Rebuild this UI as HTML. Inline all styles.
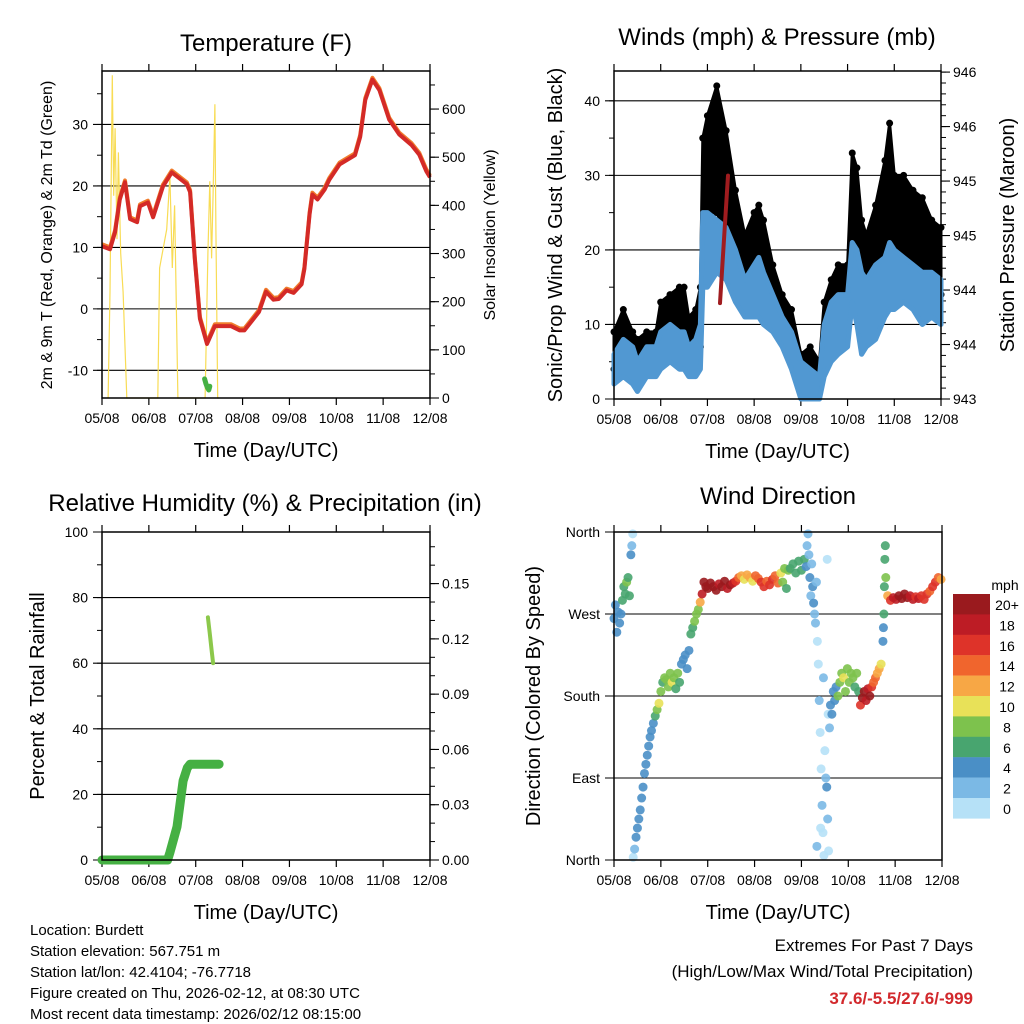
<!DOCTYPE html>
<html><head><meta charset="utf-8"><style>
html,body{margin:0;padding:0;background:#fff;}
svg{display:block;font-family:"Liberation Sans",Arial,sans-serif;}
</style></head><body>
<svg id="s" width="1024" height="1024" viewBox="0 0 1024 1024" xmlns="http://www.w3.org/2000/svg"></svg>
<script>
// ---------- DATA ----------
const dayLabels = ["05/08","06/08","07/08","08/08","09/08","10/08","11/08","12/08"];
// Temperature (F)
const tempTime = [0,0.17,0.28,0.38,0.49,0.6,0.75,0.81,0.98,1.09,1.3,1.49,1.81,1.88,1.98,2.09,2.24,2.41,2.58,2.75,2.94,3.04,3.35,3.5,3.66,3.77,3.94,4.09,4.26,4.32,4.43,4.49,4.6,4.75,4.85,5.07,5.4,5.51,5.62,5.77,5.92,6.13,6.34,6.6,6.77,6.92,7.0];
const tempVals = [10.2,9.7,12.5,17.8,20.6,14.6,14.1,16.7,17.3,14.9,19.9,22.2,20.3,19,8.1,-1.6,-5.7,-2.8,-2.8,-2.8,-3.5,-3.5,-0.5,2.8,1.5,1.6,3,2.6,4,6.5,15.4,18.6,17.8,19.4,21,23.5,25,28,34,37.3,35.6,30.8,28.4,26.7,25.1,22.4,21.4];
const dewTime = [2.19,2.22,2.25,2.28,2.3];
const dewVals = [-11.4,-12.2,-12.8,-13.2,-12.6];
const solarTime = [0.13,0.17,0.22,0.25,0.28,0.32,0.35,0.4,0.45,0.53,0.6,1.19,1.23,1.38,1.45,1.5,1.55,1.62,2.2,2.26,2.3,2.34,2.37,2.41,2.43,2.47,2.5];
const solarVals = [0,220,670,420,560,330,510,300,220,0,0,0,270,350,460,270,400,0,0,300,450,290,425,610,350,0,0];
// Winds (mph) & pressure
const windTime = [0,0.2,0.4,0.5,0.7,0.9,1.0,1.2,1.4,1.5,1.6,1.75,1.85,1.9,2.0,2.2,2.4,2.6,2.8,3.0,3.1,3.2,3.4,3.6,3.8,4.0,4.2,4.4,4.5,4.65,4.8,5.0,5.1,5.2,5.3,5.4,5.6,5.8,5.9,6.0,6.2,6.4,6.6,6.8,7.0];
const windLo = [2,3,2,1,3,3,4,5,4,4,3,3,4,15,15,17,16,13,11,11,11,10,9,7,4,0,0,0,3,5,6,7,13,10,6,7,8,11,12,12,13,12,10,11,10];
const windHi = [6,8,7,5,7,7,9,10,9,9,7,8,10,25,25,24,23,20,16,18,19,17,14,11,9,5,4,3,10,13,14,14,21,20,17,16,18,19,21,20,19,18,17,17,16];
const gustLo = [4,6,5,4,6,6,8,9,9,9,5,6,7,20,25,25,22,18,14,16,17,15,12,9,7,2,2,1,7,10,10,10,20,15,11,12,13,17,18,18,18,17,15,16,14];
const gustHi = [9,12,9,8,9,9,13,14,15,15,11,12,15,35,38,42,36,28,22,25,26,24,18,14,12,6,7,5,13,16,18,18,33,31,24,22,26,32,37,30,30,28,27,24,23];
const presTime = [2.27,2.44];
const presVals = [943.88,945.05];
// RH & precipitation
const precipTime = [0,1.4,1.45,1.6,1.73,1.82,1.88,2.5];
const precipVals = [0,0,0.004,0.018,0.043,0.05,0.052,0.052];
const rhTime = [2.26,2.3,2.34,2.37];
const rhVals = [74,69,64,60];
// Wind direction
const dirTime = [0,0.03,0.06,0.09,0.12,0.15,0.18,0.21,0.24,0.27,0.3,0.33,0.36,0.38,0.4,0.41,0.44,0.47,0.5,0.53,0.56,0.59,0.62,0.65,0.68,0.71,0.74,0.77,0.8,0.84,0.88,0.92,0.96,1.0,1.04,1.08,1.12,1.16,1.2,1.24,1.28,1.32,1.36,1.4,1.44,1.48,1.52,1.56,1.6,1.64,1.68,1.72,1.76,1.8,1.84,1.88,1.92,1.96,2.0,2.06,2.12,2.18,2.24,2.3,2.36,2.42,2.48,2.54,2.6,2.66,2.72,2.78,2.84,2.9,2.96,3.02,3.08,3.14,3.2,3.26,3.32,3.38,3.44,3.5,3.56,3.6,3.64,3.68,3.72,3.76,3.82,3.88,3.94,4.0,4.06,4.1,4.12,4.14,4.16,4.18,4.2,4.22,4.24,4.26,4.28,4.3,4.32,4.33,4.34,4.36,4.38,4.4,4.41,4.42,4.44,4.46,4.47,4.48,4.5,4.52,4.54,4.55,4.56,4.57,4.58,4.6,4.62,4.65,4.68,4.71,4.74,4.78,4.82,4.86,4.9,4.94,4.98,5.02,5.06,5.1,5.14,5.18,5.22,5.26,5.3,5.34,5.38,5.42,5.46,5.5,5.54,5.58,5.62,5.66,5.7,5.74,5.75,5.76,5.77,5.78,5.79,5.8,5.84,5.9,5.96,6.02,6.08,6.14,6.2,6.26,6.32,6.38,6.44,6.5,6.56,6.62,6.68,6.74,6.8,6.86,6.92,6.98];
const dirVals = [265,280,250,272,260,270,285,300,292,305,310,290,335,345,358,3,12,25,35,45,55,68,80,95,105,115,125,135,142,150,158,165,172,185,195,200,198,190,205,195,200,188,205,195,215,220,225,210,230,248,255,262,270,275,283,292,305,300,298,304,300,296,303,300,306,298,302,304,306,310,312,308,313,310,306,312,309,305,300,306,302,308,312,304,315,305,320,298,318,320,325,315,328,318,330,322,345,358,335,310,290,325,300,282,270,260,305,15,240,215,175,140,35,100,60,30,200,5,120,90,80,330,45,160,10,145,170,160,185,175,190,180,195,205,200,185,210,195,205,200,190,205,185,170,178,185,175,188,180,190,195,200,205,210,215,240,255,270,300,330,345,310,290,285,288,286,290,287,292,288,290,286,289,287,290,286,292,295,300,305,310,308];
const dirSpd = [4,4,4,4,5,4,6,7,7,8,6,6,4,2,1,1,3,4,4,4,4,4,4,4,4,4,4,4,4,5,6,8,10,8,7,9,8,8,9,10,8,6,8,7,4,4,4,4,4,6,7,8,8,9,12,18,20,21,21,20,21,20,19,21,20,19,20,18,16,14,12,11,13,12,11,14,15,16,17,15,16,17,14,15,10,9,8,7,8,6,6,6,6,7,6,5,3,2,3,4,3,2,4,4,3,2,2,2,1,1,2,1,1,1,2,1,2,1,1,2,4,1,3,1,1,2,4,4,5,4,5,8,9,8,10,8,9,8,9,8,7,8,6,16,20,20,19,18,20,16,14,14,13,12,10,4,5,6,7,7,6,9,12,16,18,19,20,20,21,20,19,18,17,18,16,17,16,15,16,17,14,12];
const speedBinLabels = ["20+","18","16","14","12","10","8","6","4","2","0"];
const speedColors = ["#9a1a1e","#bd1c25","#de3329","#f0652d","#f7a745","#e8e158","#7dc24d","#48a56f","#4a8fc6","#7bb9e5","#b6e1f7"];

// ---------- HELPERS ----------
const NS="http://www.w3.org/2000/svg";
const svg=document.getElementById('s');
function mk(tag,attrs,parent){const e=document.createElementNS(NS,tag);for(const k in attrs)e.setAttribute(k,attrs[k]);(parent||svg).appendChild(e);return e;}
function txt(str,x,y,size,anchor,parent,extra){const t=mk('text',Object.assign({x:x,y:y,'font-size':size,'text-anchor':anchor||'middle',fill:'#000'},extra||{}),parent);t.textContent=str;return t;}
function lin(d0,d1,r0,r1){return v=>r0+(v-d0)/(d1-d0)*(r1-r0);}
function pathOf(xs,ys,fx,fy){return xs.map((v,i)=>(i?'L':'M')+fx(v).toFixed(1)+','+fy(ys[i]).toFixed(1)).join('');}
function speedColor(s){let i=Math.floor(s/2);if(i>10)i=10;return speedColors[10-i];}

function frame(g,p,name){
  const {x0,x1,y0,y1}=p;
  const fx=lin(0,7,x0,x1);
  for(let d=0;d<=7;d++){
    const x=fx(d);
    mk('line',{x1:x,y1:y1,x2:x,y2:y1+7,stroke:'#000','stroke-width':1.2},g);
    mk('line',{x1:x,y1:y0,x2:x,y2:y0-7,stroke:'#000','stroke-width':1.2},g);
    const t=txt(dayLabels[d],x,y1+25,14,'middle',g);
    
    
  }
  const xt=txt('Time (Day/UTC)',(x0+x1)/2,y1+59,20,'middle',g);
  
  
  return fx;
}
function box(g,p){mk('rect',{x:p.x0,y:p.y0,width:p.x1-p.x0,height:p.y1-p.y0,fill:'none',stroke:'#000','stroke-width':1.5},g);}
function leftAxis(g,p,fy,ticks,labelFn,minor,grid){
  minor.forEach(v=>mk('line',{x1:p.x0-5,y1:fy(v),x2:p.x0,y2:fy(v),stroke:'#000','stroke-width':1},g));
  ticks.forEach(v=>{
    const y=fy(v);
    mk('line',{x1:p.x0-9,y1:y,x2:grid?p.x1:p.x0,y2:y,stroke:'#000','stroke-width':1.1},g);
    const t=txt(labelFn(v),p.x0-14,y+5,14,'end',g);
    
    
  });
}
function rightAxis(g,p,fy,ticks,labelFn,minor){
  minor.forEach(v=>mk('line',{x1:p.x1,y1:fy(v),x2:p.x1+5,y2:fy(v),stroke:'#000','stroke-width':1},g));
  ticks.forEach(v=>{
    const y=fy(v);
    mk('line',{x1:p.x1,y1:y,x2:p.x1+9,y2:y,stroke:'#000','stroke-width':1.1},g);
    const t=txt(labelFn(v),p.x1+12,y+5,14,'start',g);
    
    
  });
}
function rotTitle(g,str,x,y,size,name){const t=txt(str,x,y,size,'middle',g,{transform:`rotate(-90 ${x} ${y})`});return t;}
function range(a,b,s){const r=[];for(let v=a;v<=b+1e-9;v+=s)r.push(+v.toFixed(4));return r;}

// ---------- PANEL 1: TEMPERATURE ----------
{
const g=mk('g',{});
const p={x0:102,x1:430,y0:71,y1:398};
const fx=frame(g,p);
const fy=lin(-14.5,38.7,p.y1,p.y0);
const fs=lin(0,679,p.y1,p.y0);
leftAxis(g,p,fy,[-10,0,10,20,30],v=>String(v),range(-10,35,5),true);
rightAxis(g,p,fs,[0,100,200,300,400,500,600],v=>String(v),range(0,650,50));
const t1=txt('Temperature (F)',266,51,24,'middle',g);
rotTitle(g,'2m & 9m T (Red, Orange) & 2m Td (Green)',52,235,16,'y-axis-title');
rotTitle(g,'Solar Insolation (Yellow)',495,235,16,'y2-axis-title');
const sl=mk('path',{d:pathOf(solarTime,solarVals,fx,fs),fill:'none',stroke:'#f8dc55','stroke-width':1.2},g);

const ol=mk('path',{d:pathOf(tempTime,tempVals.map(v=>v+0.3),fx,fy),fill:'none',stroke:'#f07c2c','stroke-width':4,'stroke-linejoin':'round'},g);

const tl=mk('path',{d:pathOf(tempTime,tempVals,fx,fy),fill:'none',stroke:'#d42a27','stroke-width':4,'stroke-linejoin':'round'},g);

const dl=mk('path',{d:pathOf(dewTime,dewVals,fx,fy),fill:'none',stroke:'#45b043','stroke-width':5,'stroke-linejoin':'round','stroke-linecap':'round'},g);

box(g,p);
}

// ---------- PANEL 2: WINDS ----------
{
const g=mk('g',{});
const p={x0:614,x1:941,y0:71,y1:399};
const fx=frame(g,p);
const fy=lin(0,44,p.y1,p.y0);
const fp=lin(943,946.01,p.y1,p.y0);
leftAxis(g,p,fy,[0,10,20,30,40],v=>String(v),range(0,40,5),true);
rightAxis(g,p,fp,range(943,946,0.5),v=>String(Math.round(v)),range(943,946,0.1));
const t1=txt('Winds (mph) & Pressure (mb)',777,45,24,'middle',g);
rotTitle(g,'Sonic/Prop Wind & Gust (Blue, Black)',562,235,20,'y-axis-title');
rotTitle(g,'Station Pressure (Maroon)',1014,235,20,'y2-axis-title');
const gd='M'+windTime.map((t,i)=>fx(t).toFixed(1)+','+fy(gustHi[i]).toFixed(1)).join('L')+'L'+windTime.slice().reverse().map((t,j)=>{const i=windTime.length-1-j;return fx(t).toFixed(1)+','+fy(gustLo[i]).toFixed(1);}).join('L')+'Z';
const ga=mk('path',{d:gd,fill:'#000',stroke:'#000','stroke-width':3,'stroke-linejoin':'round'},g);

windTime.forEach((t,i)=>{
  const c=mk('circle',{cx:fx(t),cy:fy(gustHi[i]),r:3.5,fill:'#000'},g);
  
  
  const c2=mk('circle',{cx:fx(t),cy:fy(gustLo[i]),r:3.5,fill:'#000'},g);
  
  
});
const wd='M'+windTime.map((t,i)=>fx(t).toFixed(1)+','+fy(windHi[i]).toFixed(1)).join('L')+'L'+windTime.slice().reverse().map((t,j)=>{const i=windTime.length-1-j;return fx(t).toFixed(1)+','+fy(windLo[i]).toFixed(1);}).join('L')+'Z';
const wa=mk('path',{d:wd,fill:'#5198d2',stroke:'#5198d2','stroke-width':5,'stroke-linejoin':'round'},g);

const pl=mk('path',{d:pathOf(presTime,presVals,fx,fp),fill:'none',stroke:'#a01c1f','stroke-width':4,'stroke-linecap':'round'},g);

box(g,p);
}

// ---------- PANEL 3: RH & PRECIP ----------
{
const g=mk('g',{});
const p={x0:102,x1:430,y0:532,y1:860};
const fx=frame(g,p);
const fy=lin(0,100,p.y1,p.y0);
const fr=lin(0,0.178,p.y1,p.y0);
leftAxis(g,p,fy,[0,20,40,60,80,100],v=>String(v),range(0,100,10),true);
rightAxis(g,p,fr,range(0,0.15,0.03),v=>v.toFixed(2),range(0,0.175,0.01));
const t1=txt('Relative Humidity (%) & Precipitation (in)',265,511,24,'middle',g);
rotTitle(g,'Percent & Total Rainfall',44,696,20,'y-axis-title');
const pr=mk('path',{d:pathOf(precipTime,precipVals,fx,fr),fill:'none',stroke:'#45b043','stroke-width':9,'stroke-linejoin':'round','stroke-linecap':'round'},g);

const rh=mk('path',{d:pathOf(rhTime,rhVals,fx,fy),fill:'none',stroke:'#8cc84b','stroke-width':4,'stroke-linecap':'round'},g);

box(g,p);
}

// ---------- PANEL 4: WIND DIRECTION ----------
{
const g=mk('g',{});
const p={x0:614,x1:942,y0:532,y1:860};
const fx=frame(g,p);
const fy=lin(0,360,p.y1,p.y0);
const dn=['North','East','South','West','North'];
leftAxis(g,p,fy,[0,90,180,270,360],v=>dn[v/90],[],true);
const t1=txt('Wind Direction',778,504,24,'middle',g);
rotTitle(g,'Direction (Colored By Speed)',540,696,20,'y-axis-title');
dirTime.forEach((t,i)=>{
  const c=mk('circle',{cx:fx(t),cy:fy(dirVals[i]),r:4.5,fill:speedColor(dirSpd[i]),'fill-opacity':0.9},g);
  
  
});
box(g,p);
const cb=mk('g',{},g);
const u=txt('mph',1005,590,14,'middle',cb);
speedColors.forEach((c,i)=>{
  const r=mk('rect',{x:953,y:594+i*20.4,width:37,height:20.6,fill:c},cb);
  
  
  const t=txt(speedBinLabels[i],1007,610+i*20.4,14,'middle',cb);
  
  
});
}

// ---------- FOOTER ----------
{
const g=mk('g',{});
const lines=['Location: Burdett','Station elevation: 567.751 m','Station lat/lon: 42.4104; -76.7718','Figure created on Thu, 2026-02-12, at 08:30 UTC','Most recent data timestamp: 2026/02/12 08:15:00'];
lines.forEach((s,i)=>{const t=txt(s,30,935+i*21,15,'start',g);});
const e1=txt('Extremes For Past 7 Days',973,951,17,'end',g);
const e2=txt('(High/Low/Max Wind/Total Precipitation)',973,977,17,'end',g);
const e3=txt('37.6/-5.5/27.6/-999',973,1004,17,'end',g,{fill:'#d2282c','font-weight':'bold'});
}
</script>
</body></html>
